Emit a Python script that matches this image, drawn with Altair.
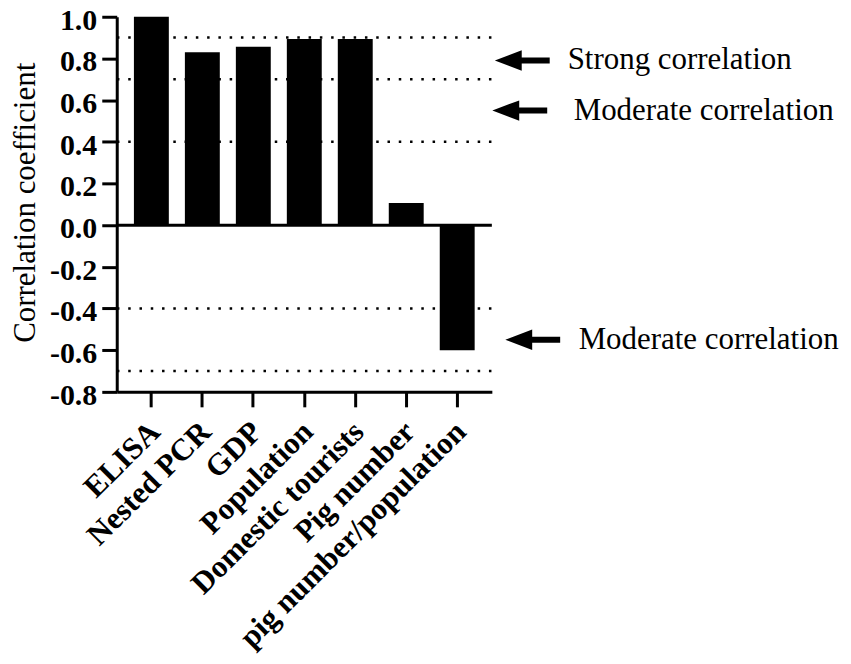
import altair as alt
import pandas as pd

# ---- data ----
categories = ["ELISA", "Nested PCR", "GDP", "Population", "Domestic tourists",
              "Pig number", "pig number/population"]
coefficients = [1.0, 0.83, 0.856, 0.893, 0.893, 0.106, -0.6]
threshold_lines = [0.9, 0.7, 0.4, -0.4, -0.7]
y_ticks = [1.0, 0.8, 0.6, 0.4, 0.2, 0.0, -0.2, -0.4, -0.6, -0.8]
annotation_labels = ["Strong correlation", "Moderate correlation", "Moderate correlation"]
annotation_values = [0.79, 0.55, -0.55]

bars_df = pd.DataFrame({"category": categories, "r": coefficients})
lines_df = pd.DataFrame({"r": threshold_lines})
zero_df = pd.DataFrame({"r": [0.0]})
ann_df = pd.DataFrame({"label": annotation_labels, "r": annotation_values,
                       "i": list(range(len(annotation_labels)))})

# ---- layout / style ----
W, H = 376, 376
SERIF = "Liberation Serif"
yscale = alt.Scale(domain=[-0.8, 1.0], nice=False, zero=False)

# arrow symbol (unit path, tip on the left)
ARROW = ("M -1 0 L -0.02 -0.37 L -0.02 -0.11 L 1 -0.11 L 1 0.11 "
         "L -0.02 0.11 L -0.02 0.37 Z")
arrow_cx = [406.5, 404, 417]
text_x = [452, 458, 463]

y_axis = alt.Axis(
    values=y_ticks,
    labelExpr="replace(format(datum.value, '.1f'), '\u2212', '-')",
    title="Correlation coefficient",
    titleX=-82, titleY=186, titleAngle=-90, titleBaseline="alphabetic", titleAlign="center",
    labelBaseline="alphabetic", labelOffset=12.5,
    labelPadding=5, tickSize=15, tickWidth=3, tickColor="black",
    domainWidth=3, domainColor="black", grid=False, zindex=1,
)

x_axis = alt.Axis(
    title=None, labelAngle=-45, labelAlign="right", labelBaseline="middle",
    labelPadding=20, labelOffset=4, labelLimit=0,
    labelFontSize=31,
    tickSize=15, tickWidth=3, tickColor="black",
    domainWidth=3, domainColor="black", grid=False, zindex=1,
)

def yenc():
    return alt.Y("r:Q", scale=yscale, axis=y_axis)

bars = alt.Chart(bars_df).mark_bar(color="black").encode(
    x=alt.X("category:N", sort=categories,
            scale=alt.Scale(paddingInner=0.315, paddingOuter=0.337), axis=x_axis),
    y=yenc(),
    y2=alt.datum(0),
)

dotted = alt.Chart(lines_df).mark_rule(
    color="black", strokeWidth=2.5, strokeDash=[2.5, 8.8], strokeDashOffset=10.9
).encode(y=yenc())

zero_line = alt.Chart(zero_df).mark_rule(color="black", strokeWidth=3).encode(y=yenc())

layers = [bars, dotted, zero_line]
for i in range(len(annotation_labels)):
    base = alt.Chart(ann_df).transform_filter(alt.datum.i == i)
    layers.append(
        base.mark_point(shape=ARROW, filled=True, color="black", opacity=1,
                        size=3025, strokeWidth=0).encode(
            x=alt.value(arrow_cx[i]), y=yenc())
    )
    layers.append(
        base.mark_text(font=SERIF, fontSize=31, color="black", align="left",
                       baseline="middle").encode(
            x=alt.value(text_x[i]), y=yenc(), text="label:N")
    )

chart = alt.layer(*layers).properties(
    width=W, height=H,
    autosize=alt.AutoSizeParams(type="none"),
    padding={"left": 109, "top": 8, "right": 352, "bottom": 264},
    background="white",
).configure(font=SERIF).configure_view(stroke=None).configure_axis(
    labelFont=SERIF, titleFont=SERIF, labelColor="black", titleColor="black",
    labelFontSize=30, labelFontWeight="bold", titleFontSize=31, titleFontWeight="normal",
).configure_axisX(labelFontSize=31)

chart.save("out.html", embed_options={"renderer": "svg", "actions": False})
